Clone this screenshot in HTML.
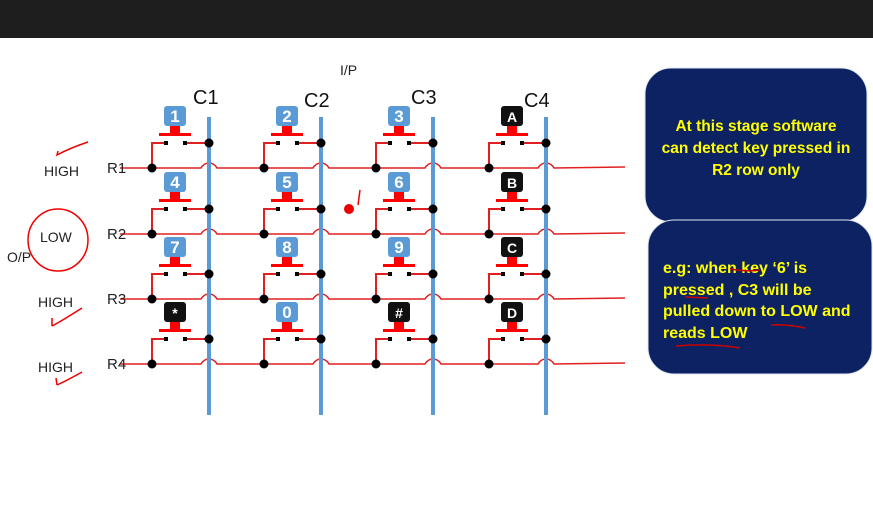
<!DOCTYPE html>
<html><head><meta charset="utf-8"><style>
body{margin:0;width:873px;height:503px;overflow:hidden;background:#fff;font-family:"Liberation Sans",sans-serif}
</style></head><body>
<svg id="s" width="873" height="503" xmlns="http://www.w3.org/2000/svg">
<rect x="0" y="0" width="873" height="38" fill="#1e1e1e"/>
<text x="340" y="75" font-size="14" fill="#222">I/P</text>
<g id="g"></g>
<g>
<rect x="645" y="68" width="222" height="154" rx="26" fill="#0c2262" stroke="#dfe6f0"/>
<text x="756" y="131" font-size="15.5" font-weight="bold" fill="#ffff00" text-anchor="middle">At this stage software</text>
<text x="756" y="153" font-size="15.5" font-weight="bold" fill="#ffff00" text-anchor="middle">can detect key pressed in</text>
<text x="756" y="175" font-size="15.5" font-weight="bold" fill="#ffff00" text-anchor="middle">R2 row only</text>
</g>
<g>
<rect x="648" y="220" width="224" height="154" rx="26" fill="#0c2262" stroke="#dfe6f0"/>
<text x="663" y="273" font-size="16" font-weight="bold" fill="#ffff00">e.g: when key ‘6’ is</text>
<text x="663" y="295" font-size="16" font-weight="bold" fill="#ffff00">pressed , C3 will be</text>
<text x="663" y="316" font-size="16" font-weight="bold" fill="#ffff00">pulled down to LOW and</text>
<text x="663" y="338" font-size="16" font-weight="bold" fill="#ffff00">reads LOW</text>
<path d="M730 269 Q745 272 760 270 M685 297 L708 298 M771 325 Q785 324 805 328 M676 346 Q710 343 740 348" stroke="#c00" stroke-width="1.5" fill="none"/>
</g>
<g stroke="#e00" stroke-width="1.5" fill="none">
<path d="M88 142 Q70 148 57 155 L58 151"/>
<ellipse cx="58" cy="240" rx="30" ry="31"/>
<path d="M52 326 Q60 322 82 308 M52 326 L52 318"/>
<path d="M57 385 Q68 380 82 372 M57 385 L56 378"/>
<path d="M358 205 L360 190"/>
</g>
<circle cx="349" cy="209" r="5" fill="#e00"/>
</svg>
<script>
const cols=['C1','C2','C3','C4'];
const rows=['R1','R2','R3','R4'];
const states=['HIGH','LOW','HIGH','HIGH'];
const keys=[['1','2','3','A'],['4','5','6','B'],['7','8','9','C'],['*','0','#','D']];
const colX=[209,321,433,546], rowY=[168,234,299,364];
const NS='http://www.w3.org/2000/svg', g=document.getElementById('g');
function el(t,a,p){const e=document.createElementNS(NS,t);for(const k in a)e.setAttribute(k,a[k]);(p||g).appendChild(e);return e;}
rows.forEach((r,i)=>{
  const y=rowY[i];
  let d='M120 '+y;
  colX.forEach(x=>{d+=' L'+(x-8)+' '+y+' Q'+(x-5)+' '+(y-5)+' '+x+' '+(y-5)+' Q'+(x+5)+' '+(y-5)+' '+(x+8)+' '+y;});
  d+=' L625 '+(y-1);
  const w=el('path',{d:d,stroke:'#e02020','stroke-width':1.5,fill:'none'});
  
  
  const t=el('text',{x:107,y:y+5,'font-size':15,fill:'#222'});t.textContent=r;
  
  
  const s=el('text',{x:i==1?40:(i==0?44:38),y:y+8,'font-size':14,fill:'#222'});s.textContent=states[i];
  
  
});
const op=el('text',{x:7,y:262,'font-size':14,fill:'#222'});op.textContent='O/P';


cols.forEach((c,j)=>{
  const x=colX[j];
  const l=el('rect',{x:x-2,y:117,width:4,height:298,fill:'#5b9bd5'});
  
  
  const t=el('text',{x:x-16+(j==1?-1:0)+(j==2?-6:0)+(j==3?-6:0),y:[104,107,104,107][j],'font-size':20,fill:'#111'});t.textContent=c;
  
  
});
keys.forEach((row,i)=>row.forEach((k,j)=>{
  const cx=colX[j]-34, y=rowY[i]-62, yy=rowY[i];
  const grp=el('g',{});
  
  
  const dark=(j==3||k=='*'||k=='#');
  el('rect',{x:cx-11,y:y,width:22,height:20,rx:3,fill:dark?'#111':'#5b9bd5'},grp);
  const t=el('text',{x:cx,y:y+16,'font-size':dark?14:17,'font-weight':'bold',fill:'#fff','text-anchor':'middle'},grp);t.textContent=k;
  el('rect',{x:cx-5,y:y+20,width:10,height:7,fill:'#f00'},grp);
  el('rect',{x:cx-16,y:y+27,width:32,height:3,fill:'#f00'},grp);
  el('rect',{x:cx-11,y:y+35,width:4,height:4,fill:'#000'},grp);
  el('rect',{x:cx+8,y:y+35,width:4,height:4,fill:'#000'},grp);
  el('path',{d:'M'+(cx+12)+' '+(y+37)+' L'+(colX[j])+' '+(y+37)+' M'+(cx-11)+' '+(y+37)+' L'+(cx-23)+' '+(y+37)+' L'+(cx-23)+' '+yy,stroke:'#e02020','stroke-width':2,fill:'none'},grp);
  el('circle',{cx:colX[j],cy:y+37,r:4.5,fill:'#000'},grp);
  el('circle',{cx:cx-23,cy:yy,r:4.5,fill:'#000'},grp);
}));
</script>
</body></html>
